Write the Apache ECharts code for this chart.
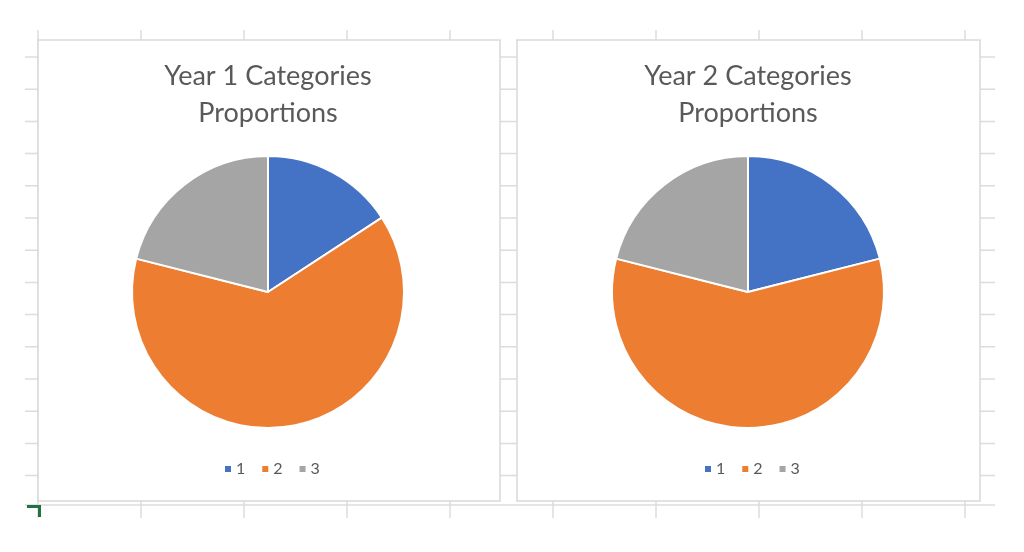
<!DOCTYPE html>
<html>
<head>
<meta charset="utf-8">
<script src="https://cdn.jsdelivr.net/npm/echarts@6/dist/echarts.min.js"></script>
<style>
html,body{margin:0;padding:0;background:#fff;}
#c{width:1024px;height:552px;}
</style>
</head>
<body>
<div id="c"></div>
<script>
const categories = ['1', '2', '3'];
const year1Values = [3, 12, 4];
const year2Values = [4, 11, 4];
const titles = ['Year 1 Categories\nProportions', 'Year 2 Categories\nProportions'];
const colors = ['#4472C4', '#ED7D31', '#A5A5A5'];

const chart = echarts.init(document.getElementById('c'), null, {renderer: 'canvas'});

// spreadsheet background grid (decoration)
const gridColor = '#dcdcdc';
const bg = [];
for (let k = 0; k < 10; k++) {
  const x = 38 + 103 * k;
  bg.push({type: 'line', silent: true, z: 0, shape: {x1: x, y1: 30, x2: x, y2: 518}, style: {stroke: gridColor, lineWidth: 1.5}});
}
for (let k = 0; k < 14; k++) {
  const y = 57 + 32.2 * k;
  bg.push({type: 'line', silent: true, z: 0, shape: {x1: 25, y1: y, x2: 995, y2: y}, style: {stroke: gridColor, lineWidth: 1.5}});
}
bg.push({type: 'line', silent: true, z: 0, shape: {x1: 25, y1: 505, x2: 995, y2: 505}, style: {stroke: gridColor, lineWidth: 1.5}});
// chart boxes
bg.push({type: 'rect', silent: true, z: 1, shape: {x: 38, y: 40, width: 462, height: 461}, style: {fill: '#fff', stroke: '#d9d9d9', lineWidth: 1.5}});
bg.push({type: 'rect', silent: true, z: 1, shape: {x: 517, y: 40, width: 463, height: 461}, style: {fill: '#fff', stroke: '#d9d9d9', lineWidth: 1.5}});
// selection corner
bg.push({type: 'polyline', silent: true, z: 2, shape: {points: [[27, 506.5], [39.5, 506.5], [39.5, 517]]}, style: {stroke: '#217346', lineWidth: 3, fill: null}});

const centers = [[268, 292], [748, 292]];
const valueSets = [year1Values, year2Values];

const option = {
  animation: false,
  color: colors,
  graphic: {elements: bg},
  title: titles.map((t, i) => ({
    text: t,
    left: centers[i][0] - 5,
    top: 53,
    textAlign: 'center',
    textStyle: {fontFamily: 'Lato', fontSize: 27, fontWeight: 'normal', color: '#595959', lineHeight: 37}
  })),
  legend: centers.map((c, i) => ({
    data: categories,
    left: c[0] - 45,
    top: 461,
    padding: 0,
    itemWidth: 8,
    itemHeight: 8,
    itemGap: 15,
    icon: 'rect',
    textStyle: {fontFamily: 'Lato', fontSize: 16, color: '#595959', padding: [0, 0, 0, -1]},
    seriesIndex: i
  })),
  series: valueSets.map((vals, i) => ({
    type: 'pie',
    center: centers[i],
    radius: 136,
    startAngle: 90,
    clockwise: true,
    label: {show: false},
    labelLine: {show: false},
    emphasis: {disabled: true},
    itemStyle: {borderColor: '#fff', borderWidth: 2},
    data: categories.map((n, j) => ({name: n, value: vals[j]}))
  }))
};
chart.setOption(option);
</script>
</body>
</html>
